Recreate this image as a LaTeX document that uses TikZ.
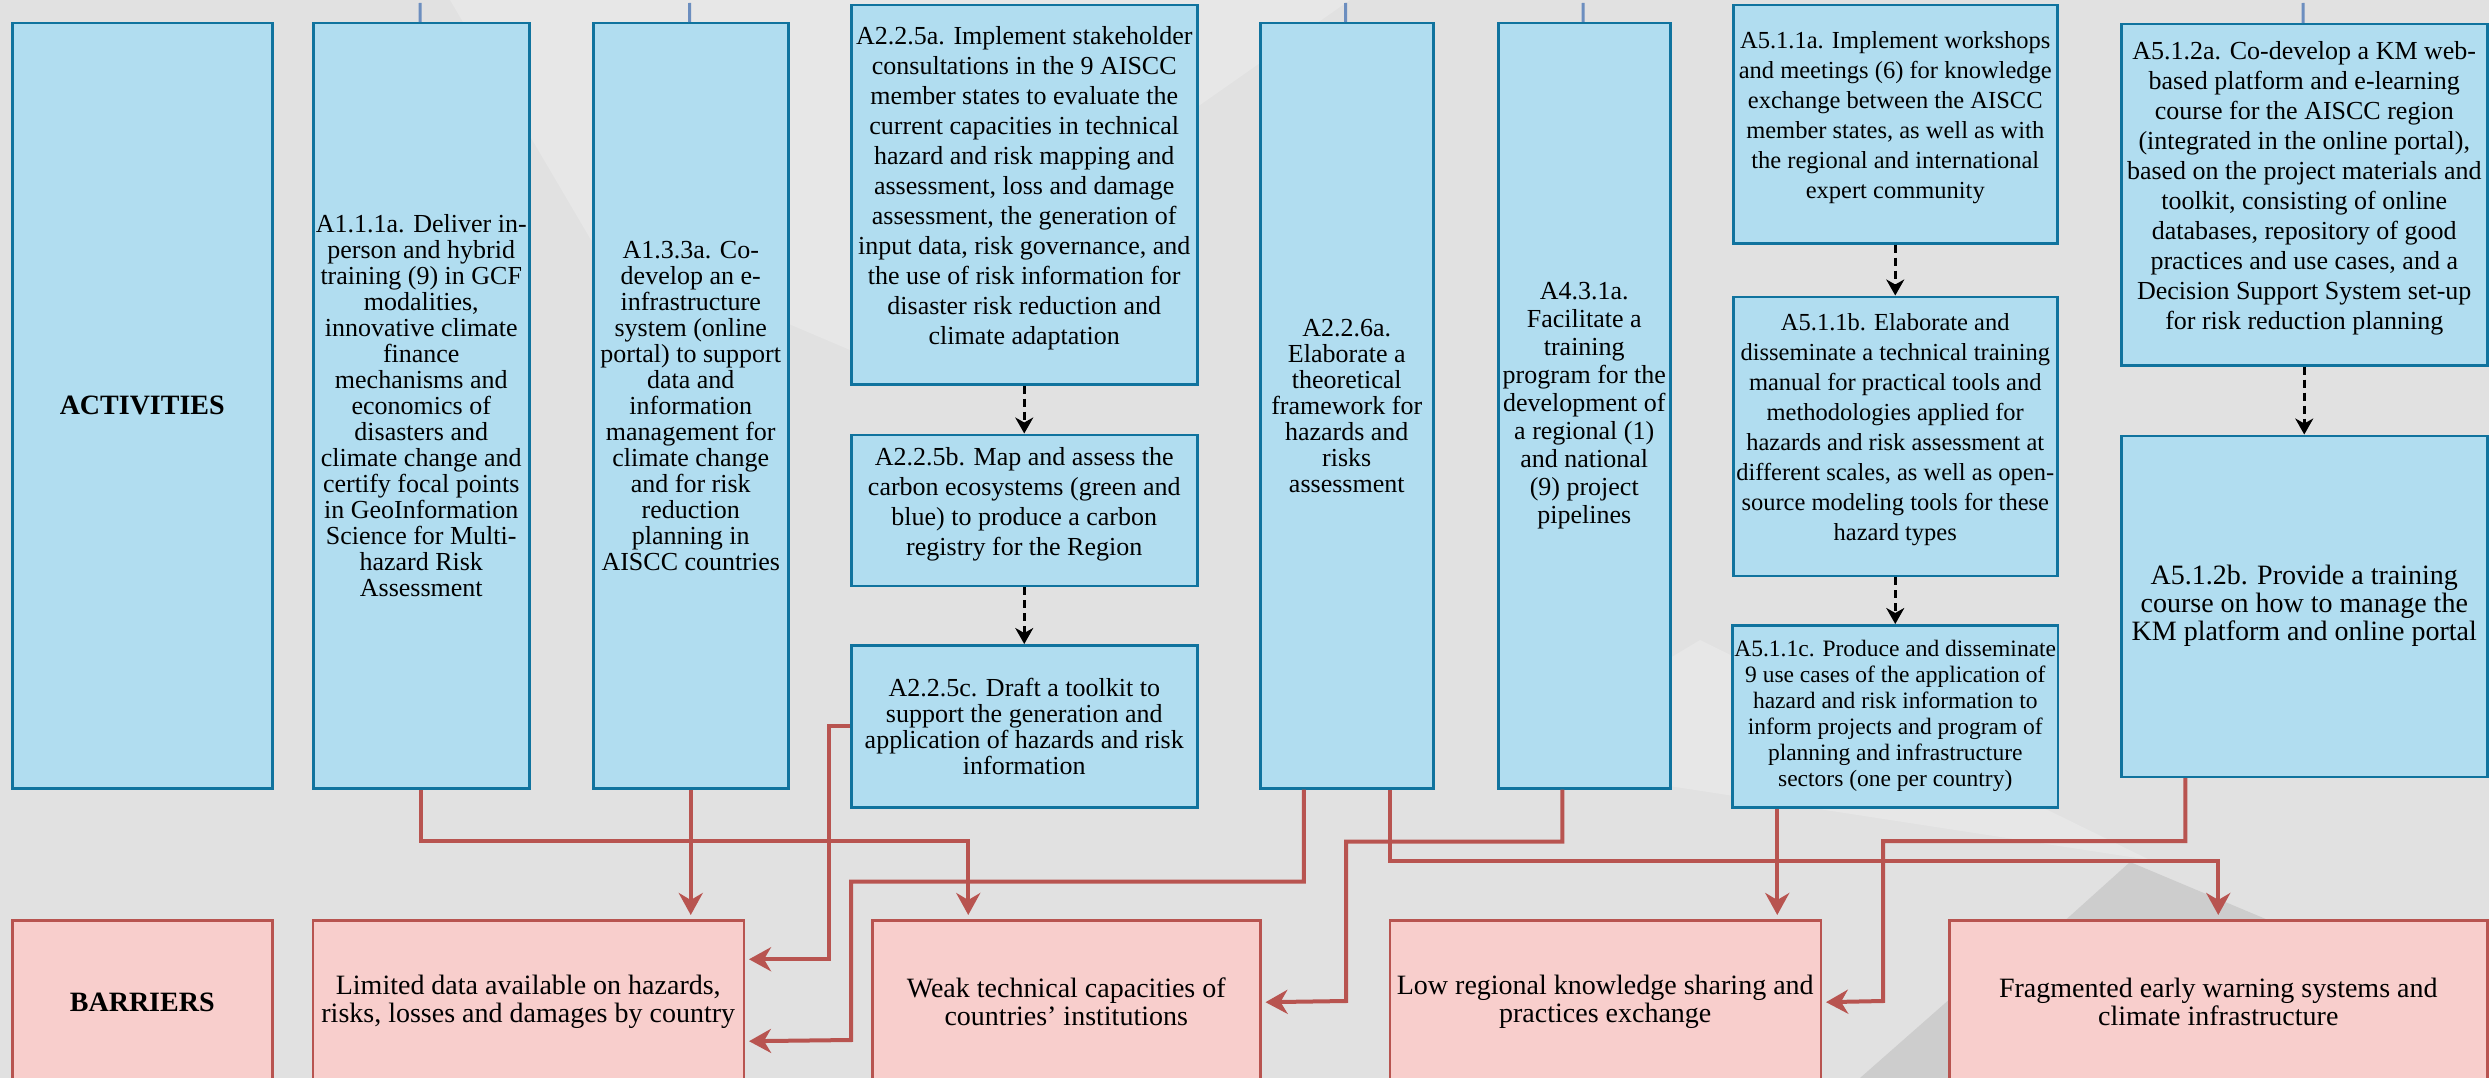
\documentclass[tikz,border=0pt]{standalone}
\usepackage{fontspec}
\setmainfont{Liberation Serif}
\usetikzlibrary{arrows.meta,positioning}

\definecolor{actfill}{HTML}{B1DDF0}
\definecolor{actline}{HTML}{10739E}
\definecolor{barfill}{HTML}{F8CECC}
\definecolor{barline}{HTML}{B85450}
\definecolor{feedblue}{HTML}{6C8EBF}
\definecolor{bggray}{HTML}{E1E1E1}
\definecolor{bglight}{HTML}{E7E7E7}
\definecolor{bgdark}{HTML}{CDCDCD}

\begin{document}
\begin{tikzpicture}[x=1pt, y=-1pt]

    % Styles
    \tikzstyle{activity} = [rectangle, anchor=north west, draw=actline, fill=actfill, line width=2.5pt, inner sep=2pt, align=center, font=\fontsize{26}{26}\selectfont]
    \tikzstyle{loose} = [font=\fontsize{26}{30}\selectfont]
    \tikzstyle{barrier} = [rectangle, anchor=north west, draw=barline, fill=barfill, line width=2.5pt, minimum height=164pt, align=center, font=\fontsize{28}{28}\selectfont]
    \tikzstyle{heading} = [font=\fontsize{28}{28}\selectfont\bfseries]
    \tikzstyle{arrow} = [draw=barline, line width=4pt, -{Stealth[length=22pt, width=24pt, inset=7pt]}, shorten >=4pt]
    \tikzstyle{dasharrow} = [black, line width=2.5pt, dash pattern=on 8pt off 5pt, -{Stealth[length=16pt, width=18pt, inset=5pt]}]
    \tikzstyle{feed} = [draw=feedblue, line width=3pt]

    % Background
    \fill [bggray] (0,0) rectangle (2489,1078);
    \fill [bglight] (450,0) -- (1350,0) -- (850,350) -- (591,240) -- cycle;
    \fill [bglight] (1700,640) -- (2150,860) -- (1500,760) -- cycle;
    \fill [bgdark] (2130,862) -- (2060,925) -- (2280,925) -- cycle;
    \fill [bgdark] (1860,1078) -- (1960,990) -- (1960,1078) -- cycle;
    \useasboundingbox (0,0) rectangle (2489,1078);

    % Activities
    \node (act) [activity, minimum width=260pt, minimum height=765pt, heading] at (11,22) {ACTIVITIES};
    \node (a111) [activity, minimum width=216pt, minimum height=765pt] at (312,22) {A1.1.1a. Deliver in-\\person and hybrid\\training (9) in GCF\\modalities,\\innovative climate\\finance\\mechanisms and\\economics of\\disasters and\\climate change and\\certify focal points\\in GeoInformation\\Science for Multi-\\hazard Risk\\Assessment};
    \node (a133) [activity, minimum width=195pt, minimum height=765pt] at (592,22) {A1.3.3a. Co-\\develop an e-\\infrastructure\\system (online\\portal) to support\\data and\\information\\management for\\climate change\\and for risk\\reduction\\planning in\\AISCC countries};
    \node (a225a) [activity, loose, minimum width=346pt, minimum height=379pt] at (850,4) {A2.2.5a. Implement stakeholder\\consultations in the 9 AISCC\\member states to evaluate the\\current capacities in technical\\hazard and risk mapping and\\assessment, loss and damage\\assessment, the generation of\\input data, risk governance, and\\the use of risk information for\\disaster risk reduction and\\climate adaptation\\[-12pt]\mbox{}};
    \node (a225b) [activity, loose, minimum width=346pt, minimum height=151pt, below=48pt of a225a] {A2.2.5b. Map and assess the\\carbon ecosystems (green and\\blue) to produce a carbon\\registry for the Region\\[-12pt]\mbox{}};
    \node (a225c) [activity, minimum width=346pt, minimum height=162pt, below=57pt of a225b] {A2.2.5c. Draft a toolkit to\\support the generation and\\application of hazards and risk\\information};
    \node (a226) [activity, minimum width=173pt, minimum height=765pt] at (1259,22) {A2.2.6a.\\Elaborate a\\theoretical\\framework for\\hazards and\\risks\\assessment};
    \node (a431) [activity, minimum width=172pt, minimum height=765pt, font=\fontsize{26}{28}\selectfont] at (1497,22) {A4.3.1a.\\Facilitate a\\training\\program for the\\development of\\a regional (1)\\and national\\(9) project\\pipelines};
    \node (a511a) [activity, minimum width=324pt, minimum height=238pt, font=\fontsize{24.5}{30}\selectfont] at (1732,4) {A5.1.1a. Implement workshops\\and meetings (6) for knowledge\\exchange between the AISCC\\member states, as well as with\\the regional and international\\expert community\\[-12pt]\mbox{}};
    \node (a511b) [activity, minimum width=324pt, minimum height=279pt, below=51pt of a511a, font=\fontsize{24.5}{30}\selectfont] {A5.1.1b. Elaborate and\\disseminate a technical training\\manual for practical tools and\\methodologies applied for\\hazards and risk assessment at\\different scales, as well as open-\\source modeling tools for these\\hazard types\\[-12pt]\mbox{}};
    \node (a511c) [activity, minimum width=324pt, minimum height=182pt, below=47pt of a511b, font=\fontsize{23.5}{26}\selectfont] {A5.1.1c. Produce and disseminate\\9 use cases of the application of\\hazard and risk information to\\inform projects and program of\\planning and infrastructure\\sectors (one per country)};
    \node (a512a) [activity, loose, minimum width=366pt, minimum height=341pt] at (2120,23) {A5.1.2a. Co-develop a KM web-\\based platform and e-learning\\course for the AISCC region\\(integrated in the online portal),\\based on the project materials and\\toolkit, consisting of online\\databases, repository of good\\practices and use cases, and a\\Decision Support System set-up\\for risk reduction planning\\[-12pt]\mbox{}};
    \node (a512b) [activity, minimum width=366pt, minimum height=341pt, below=68pt of a512a, font=\fontsize{28}{28}\selectfont] {A5.1.2b. Provide a training\\course on how to manage the\\KM platform and online portal};

    % Barriers
    \node (bar) [barrier, minimum width=260pt, heading] at (11,919) {BARRIERS};
    \node (limited) [barrier, minimum width=431pt, right=38pt of bar] {Limited data available on hazards,\\risks, losses and damages by country};
    \node (weak) [barrier, minimum width=388pt, right=126pt of limited] {Weak technical capacities of\\countries’ institutions};
    \node (low) [barrier, minimum width=431pt, right=127pt of weak] {Low regional knowledge sharing and\\practices exchange};
    \node (frag) [barrier, minimum width=538pt, right=126pt of low] {Fragmented early warning systems and\\climate infrastructure};

    % Links from above
    \coordinate (from111) at (420,3);
    \coordinate (from133) at (689.5,3);
    \coordinate (from226) at (1345.5,3);
    \coordinate (from431) at (1583,3);
    \coordinate (from512) at (2303,3);
    \draw [feed] (from111) -- (a111);
    \draw [feed] (from133) -- (a133);
    \draw [feed] (from226) -- (a226);
    \draw [feed] (from431) -- (a431);
    \draw [feed] (from512) -- (a512a);

    % Arrows
    \draw [dasharrow] (a225a) -- (a225b);
    \draw [dasharrow] (a225b) -- (a225c);
    \draw [dasharrow] (a511a) -- (a511b);
    \draw [dasharrow] (a511b) -- (a511c);
    \draw [dasharrow] (a512a) -- (a512b);

    \draw [arrow] (a111.south) -- ++(0,51) -| ([xshift=-98pt]weak.north);
    \draw [arrow] (a133.south) -- (a133.south |- limited.north);
    \draw [arrow] (a225c.west) -- ++(-21,0) |- ([yshift=43pt]limited.east);
    \draw [arrow] ([xshift=-43pt]a226.south) -- ++(0,92) -| (851,1040) -- ([yshift=-39pt]limited.east);
    \draw [arrow] ([xshift=43pt]a226.south) -- ++(0,71) -| (frag.north);
    \draw [arrow] ([xshift=-22pt]a431.south) -- ++(0,52) -| (1346,1001) -- (weak.east);
    \draw [arrow] ([xshift=-118pt]a511c.south) -- ([xshift=-118pt]a511c.south |- low.north);
    \draw [arrow] ([xshift=-119pt]a512b.south) -- ++(0,63) -| (1883,1001) -- (low.east);

\end{tikzpicture}
\end{document}
